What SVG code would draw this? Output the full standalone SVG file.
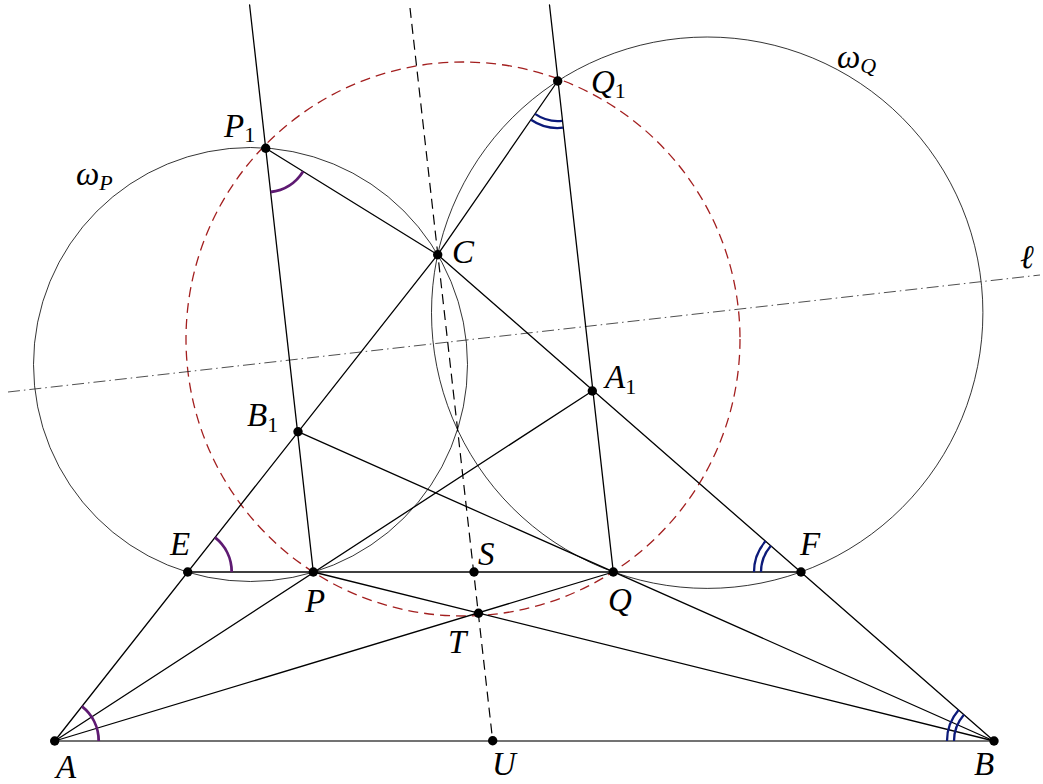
<svg xmlns="http://www.w3.org/2000/svg" width="1043" height="784" viewBox="0 0 1043 784">
<style>
.ln{stroke:#000;stroke-width:1.3;fill:none;stroke-linecap:round}
.circ{stroke:#000;stroke-width:0.8;fill:none}
.red{stroke:#a31f1f;stroke-width:1.3;fill:none;stroke-dasharray:10 6}
.dash{stroke:#000;stroke-width:1.2;fill:none;stroke-dasharray:10 6}
.dd{stroke:#222;stroke-width:0.8;fill:none;stroke-dasharray:12 4 1.5 4}
.pur{stroke:#5e1a72;stroke-width:2.8;fill:none}
.blu{stroke:#0c1a7a;stroke-width:2.3;fill:none}
.pt{fill:#000}
.lbl{font-family:"Liberation Serif","DejaVu Serif",serif;font-style:italic;font-size:33px;fill:#000}
.sub{font-style:normal;font-size:22px}
.subi{font-style:italic;font-size:22px}
</style>
<rect width="1043" height="784" fill="#fff"/>
<g id="circles">
<circle id="omegaP" class="circ" cx="250.5" cy="364.5" r="217"/>
<circle id="omegaQ" class="circ" cx="707.2" cy="312.7" r="275.7"/>
<circle id="redcircle" class="red" cx="463" cy="339" r="277"/>
</g>
<g id="connectors">
<line class="dd" x1="8" y1="392" x2="1040" y2="275"/>
<line class="ln" x1="54.7" y1="741" x2="994" y2="741" style="stroke:#444;stroke-width:1.5"/>
<line class="ln" x1="54.7" y1="741" x2="437.7" y2="254.7"/>
<line class="ln" x1="437.7" y1="254.7" x2="994" y2="741"/>
<line class="ln" x1="187.7" y1="572" x2="801" y2="572"/>
<line class="ln" x1="249.6" y1="5" x2="313.3" y2="572"/>
<line class="ln" x1="549.5" y1="5" x2="613.3" y2="572"/>
<line class="dash" x1="410" y1="8" x2="492.7" y2="740.7"/>
<line class="ln" x1="54.7" y1="741" x2="592.3" y2="391"/>
<line class="ln" x1="994" y1="741" x2="298" y2="431.7"/>
<line class="ln" x1="54.7" y1="741" x2="613.3" y2="572"/>
<line class="ln" x1="994" y1="741" x2="313.3" y2="572"/>
<line class="ln" x1="265.7" y1="148.3" x2="437.7" y2="254.7"/>
<line class="ln" x1="557.7" y1="81" x2="437.7" y2="254.7"/>
</g>
<g id="angles">
<path class="pur" d="M98.7 741 A44 44 0 0 0 81.9 706.4"/>
<path class="pur" d="M231.7 572 A44 44 0 0 0 214.9 537.4"/>
<path class="pur" d="M303.1 171.5 A44 44 0 0 1 270.6 192"/>
<path class="blu" d="M562.2 120.8 A40 40 0 0 1 535 113.9"/>
<path class="blu" d="M563 127.7 A47 47 0 0 1 531 119.7"/>
<path class="blu" d="M761 572 A40 40 0 0 1 770.9 545.7"/>
<path class="blu" d="M754 572 A47 47 0 0 1 765.6 541.1"/>
<path class="blu" d="M954 741 A40 40 0 0 1 963.9 714.7"/>
<path class="blu" d="M947 741 A47 47 0 0 1 958.6 710.1"/>
</g>
<g id="node-A"><circle class="pt" cx="54.7" cy="741" r="4.7"/><text class="lbl" x="56" y="778">A</text></g>
<g id="node-B"><circle class="pt" cx="994" cy="741" r="4.7"/><text class="lbl" x="974" y="775">B</text></g>
<g id="node-U"><circle class="pt" cx="492.7" cy="740.7" r="4.7"/><text class="lbl" x="492" y="775">U</text></g>
<g id="node-C"><circle class="pt" cx="437.7" cy="254.7" r="4.7"/><text class="lbl" x="452" y="263">C</text></g>
<g id="node-E"><circle class="pt" cx="187.7" cy="572" r="4.7"/><text class="lbl" x="170" y="555">E</text></g>
<g id="node-F"><circle class="pt" cx="801" cy="572" r="4.7"/><text class="lbl" x="800" y="555">F</text></g>
<g id="node-P"><circle class="pt" cx="313.3" cy="572" r="4.7"/><text class="lbl" x="305" y="612">P</text></g>
<g id="node-Q"><circle class="pt" cx="613.3" cy="572" r="4.7"/><text class="lbl" x="608" y="611">Q</text></g>
<g id="node-S"><circle class="pt" cx="474" cy="572" r="4.7"/><text class="lbl" x="478" y="565">S</text></g>
<g id="node-T"><circle class="pt" cx="478.5" cy="613.2" r="4.7"/><text class="lbl" x="448" y="653">T</text></g>
<g id="node-A1"><circle class="pt" cx="592.3" cy="391" r="4.7"/><text class="lbl" x="605" y="388">A<tspan class="sub" dy="6">1</tspan></text></g>
<g id="node-B1"><circle class="pt" cx="298" cy="431.7" r="4.7"/><text class="lbl" x="247" y="426">B<tspan class="sub" dy="6">1</tspan></text></g>
<g id="node-P1"><circle class="pt" cx="265.7" cy="148.3" r="4.7"/><text class="lbl" x="224" y="137">P<tspan class="sub" dy="5">1</tspan></text></g>
<g id="node-Q1"><circle class="pt" cx="557.7" cy="81" r="4.7"/><text class="lbl" x="591" y="93">Q<tspan class="sub" dy="5">1</tspan></text></g>
<g id="label-omegaP"><text class="lbl" x="76" y="185">ω<tspan class="subi" dy="5">P</tspan></text></g>
<g id="label-omegaQ"><text class="lbl" x="837" y="68">ω<tspan class="subi" dy="5">Q</tspan></text></g>
<g id="label-l"><text class="lbl" x="1020" y="268">ℓ</text></g>
</svg>
